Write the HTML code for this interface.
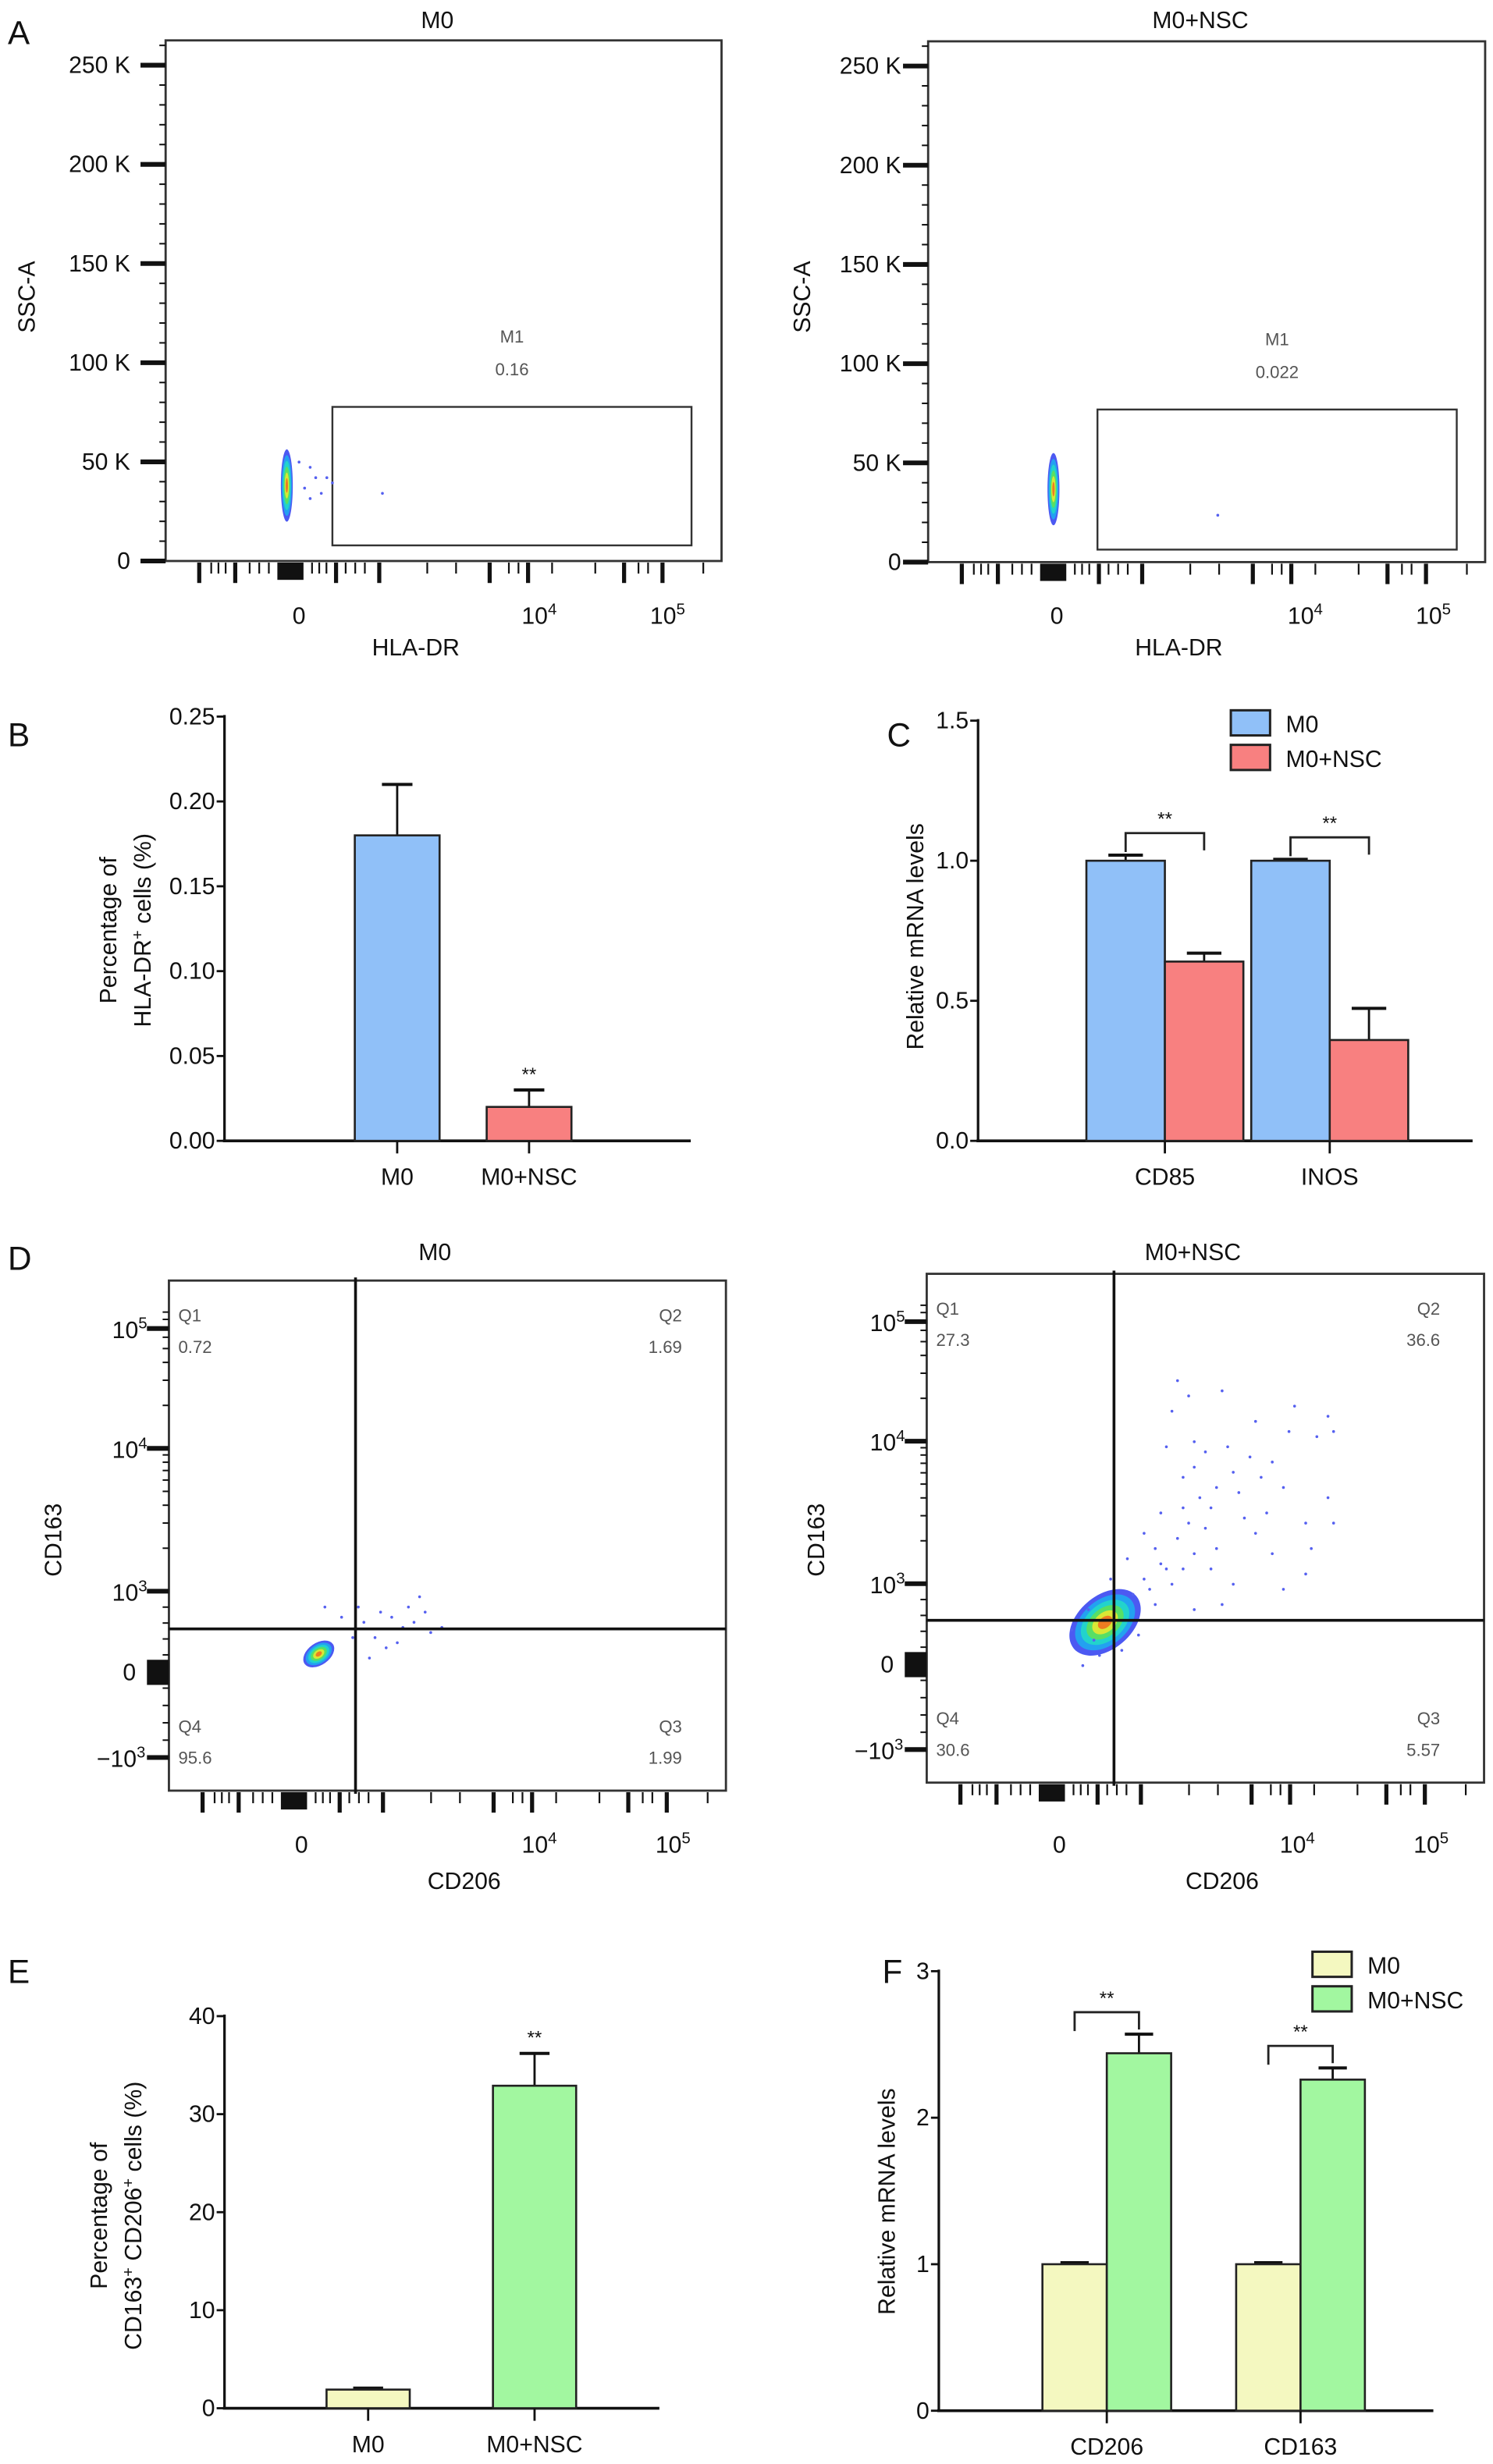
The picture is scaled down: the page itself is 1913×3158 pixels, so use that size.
<!DOCTYPE html>
<html><head><meta charset="utf-8"><style>
html,body{margin:0;padding:0;background:#fff;}
svg{display:block;}
text{font-family:"Liberation Sans",Arial,sans-serif;fill:#111;}
.n{font-family:"Liberation Sans Narrow","Liberation Sans",sans-serif;}
</style></head><body>
<svg id="fig" width="1913" height="3158" viewBox="0 0 951 1568" preserveAspectRatio="none" xmlns="http://www.w3.org/2000/svg"></svg>
<script>
// ---------- DATA ----------
const sscTicks = [0, 50, 100, 150, 200, 250];
const sscTickLabels = ["0", "50 K", "100 K", "150 K", "200 K", "250 K"];
const gateM0 = {x0: 0.30, x1: 0.946, y0: 0.704, y1: 0.97};
const gateNSC = {x0: 0.304, x1: 0.949, y0: 0.707, y1: 0.976};
const m1ValueM0 = "0.16";
const m1ValueNSC = "0.022";
const dotsA_M0 = [[0.24,0.81],[0.26,0.82],[0.27,0.84],[0.25,0.86],[0.29,0.84],[0.30,0.85],[0.26,0.88],[0.28,0.87],[0.39,0.87]];
const dotsA_NSC = [[0.52,0.91]];
const quadM0 = ["0.72", "1.69", "1.99", "95.6"];
const quadNSC = ["27.3", "36.6", "5.57", "30.6"];
const dotsD_M0 = [[0.35,0.67],[0.38,0.65],[0.40,0.66],[0.42,0.68],[0.44,0.67],[0.46,0.65],[0.47,0.69],[0.37,0.70],[0.39,0.72],[0.33,0.70],[0.31,0.66],[0.43,0.64],[0.49,0.68],[0.36,0.74],[0.34,0.64],[0.41,0.71],[0.45,0.62],[0.28,0.64]];
const dotsD_NSC = [[0.45,0.21],[0.47,0.24],[0.44,0.27],[0.53,0.23],[0.59,0.29],[0.66,0.26],[0.72,0.28],[0.65,0.31],[0.73,0.31],[0.70,0.32],[0.48,0.33],[0.43,0.34],[0.50,0.35],[0.54,0.34],[0.55,0.39],[0.48,0.38],[0.46,0.40],[0.49,0.44],[0.51,0.46],[0.56,0.43],[0.61,0.47],[0.64,0.42],[0.68,0.49],[0.72,0.44],[0.59,0.51],[0.52,0.54],[0.48,0.55],[0.42,0.57],[0.46,0.58],[0.39,0.60],[0.44,0.61],[0.51,0.58],[0.55,0.61],[0.62,0.55],[0.69,0.54],[0.73,0.49],[0.37,0.63],[0.41,0.65],[0.38,0.71],[0.35,0.74],[0.31,0.75],[0.28,0.77],[0.30,0.72],[0.48,0.66],[0.53,0.65],[0.64,0.62],[0.68,0.59],[0.46,0.46],[0.41,0.54],[0.39,0.51],[0.40,0.62],[0.43,0.58],[0.45,0.52],[0.50,0.50],[0.57,0.48],[0.60,0.40],[0.62,0.37],[0.58,0.36],[0.52,0.42],[0.47,0.49],[0.26,0.70],[0.29,0.66],[0.33,0.60],[0.36,0.56],[0.42,0.47]];

const bCats = ["M0", "M0+NSC"];
const bValues = [0.18, 0.02];
const bErrors = [0.03, 0.01];
const bTicks = [0, 0.05, 0.10, 0.15, 0.20, 0.25];
const bTickLabels = ["0.00", "0.05", "0.10", "0.15", "0.20", "0.25"];

const cCats = ["CD85", "INOS"];
const cM0 = [1.0, 1.0];
const cM0Err = [0.02, 0.005];
const cNSC = [0.64, 0.36];
const cNSCErr = [0.03, 0.113];
const cTicks = [0, 0.5, 1.0, 1.5];
const cTickLabels = ["0.0", "0.5", "1.0", "1.5"];

const eCats = ["M0", "M0+NSC"];
const eValues = [1.9, 32.9];
const eErrors = [0.15, 3.3];
const eTicks = [0, 10, 20, 30, 40];
const eTickLabels = ["0", "10", "20", "30", "40"];

const fCats = ["CD206", "CD163"];
const fM0 = [1.0, 1.0];
const fM0Err = [0.01, 0.01];
const fNSC = [2.44, 2.26];
const fNSCErr = [0.13, 0.08];
const fTicks = [0, 1, 2, 3];
const fTickLabels = ["0", "1", "2", "3"];

// ---------- HELPERS ----------
const NS = "http://www.w3.org/2000/svg";
const svg = document.getElementById("fig");
function mk(tag, attrs, name, inter, parent) {
  const el = document.createElementNS(NS, tag);
  for (const k in attrs) el.setAttribute(k, attrs[k]);
  
  
  (parent || svg).appendChild(el);
  return el;
}
function ln(x1, y1, x2, y2, w, name, col, p) {
  return mk("line", {x1, y1, x2, y2, stroke: col || "#111", "stroke-width": w}, name, false, p);
}
function tx(x, y, s, size, anchor, name, cls, col, p) {
  const t = mk("text", {x, y, "font-size": size, "text-anchor": anchor || "middle"}, name, false, p);
  if (cls) t.setAttribute("class", cls);
  if (col) t.setAttribute("style", "fill:" + col);
  t.textContent = s;
  return t;
}
function pow10(x, y, e, size, name, p) {
  const t = mk("text", {x, y, "font-size": size, "text-anchor": "middle"}, name, false, p);
  const a = document.createElementNS(NS, "tspan"); a.textContent = "10";
  const b = document.createElementNS(NS, "tspan"); b.textContent = e;
  b.setAttribute("dy", -6); b.setAttribute("font-size", size * 0.68);
  t.appendChild(a); t.appendChild(b);
  return t;
}
function rotText(x, y, s, size, name, cls) {
  const t = mk("text", {x: 0, y: 0, "font-size": size, "text-anchor": "middle", transform: `translate(${x},${y}) rotate(-90)`}, name, false);
  if (cls) t.setAttribute("class", cls);
  t.innerHTML = s;
  return t;
}
const xBig = [415, 490, 700, 790, 1020, 1100, 1300, 1380].map(z => (z - 345) / 1158);
const xSmall = [440, 455, 470, 520, 540, 560, 650, 665, 680, 720, 740, 760, 890, 950, 1060, 1080, 1150, 1240, 1330, 1350, 1465].map(z => (z - 345) / 1158);
function flowXTicks(f, g) {
  const w = f.x1 - f.x0;
  xBig.forEach(fr => ln(f.x0 + fr * w, f.y1 + 1, f.x0 + fr * w, f.y1 + 14, 2.6, "x-major-tick", null, g));
  xSmall.forEach(fr => ln(f.x0 + fr * w, f.y1 + 1, f.x0 + fr * w, f.y1 + 8, 1.1, "x-minor-tick", null, g));
  mk("rect", {x: f.x0 + 0.201 * w, y: f.y1 + 1, width: 0.047 * w, height: 11, fill: "#111"}, "x-zero-block", false, g);
}
function blob(cx, cy, rx, ry, rot, g) {
  const cols = ["#2d3cf0", "#1fa8f0", "#22d8c8", "#5ee05a", "#e8e830", "#f07020"];
  cols.forEach((c, i) => {
    const k = 1 - i * 0.16;
    mk("ellipse", {cx, cy, rx: rx * k, ry: ry * k, fill: c, transform: `rotate(${rot},${cx},${cy})`, opacity: i == 0 ? 0.85 : 0.9}, "density-contour", false, g);
  });
}
function dots(list, f, g) {
  list.forEach(d => mk("circle", {cx: f.x0 + d[0] * (f.x1 - f.x0), cy: f.y0 + d[1] * (f.y1 - f.y0), r: 0.9, fill: "#5560f0"}, "event-dot", false, g));
}

// ---------- PANEL A ----------
function panelA(f, title, tLabelX, labelRight, y250, gate, m1, dl, blobC, xlab) {
  const g = mk("g", {}, "panel-a-" + title.toLowerCase().replace("+", "-"), false);
  const ySSC = v => f.y1 - v / 250 * (f.y1 - y250);
  tx((f.x0 + f.x1) / 2 - 4, 18, title, 15, "middle", "plot-title", null, null, g);
  mk("rect", {x: f.x0, y: f.y0, width: f.x1 - f.x0, height: f.y1 - f.y0, fill: "none", stroke: "#333", "stroke-width": 1.4}, "plot-frame", false, g);
  for (let v = 0; v <= 260; v += 10) {
    const major = v % 50 === 0;
    ln(major ? f.x0 - 16 : f.x0 - 4, ySSC(v), f.x0, ySSC(v), major ? 3 : 1, major ? "y-major-tick" : "y-minor-tick", null, g);
  }
  sscTicks.forEach((v, i) => tx(labelRight, ySSC(v) + 5, sscTickLabels[i], 15, "end", "y-tick-label", null, null, g));
  const w = f.x1 - f.x0, h = f.y1 - f.y0;
  mk("rect", {x: f.x0 + gate.x0 * w, y: f.y0 + gate.y0 * h, width: (gate.x1 - gate.x0) * w, height: (gate.y1 - gate.y0) * h, fill: "none", stroke: "#333", "stroke-width": 1.2}, "gate-m1", true, g);
  const gx = f.x0 + (gate.x0 + gate.x1) / 2 * w;
  tx(gx, f.y0 + gate.y0 * h - 41, "M1", 11, "middle", "gate-name", null, "#555", g);
  tx(gx, f.y0 + gate.y0 * h - 20, m1, 11, "middle", "gate-percentage", null, "#555", g);
  flowXTicks(f, g);
  blob(f.x0 + blobC[0] * w, f.y0 + blobC[1] * h, 3.8, 23, 0, g);
  dots(dl, f, g);
  tx(f.x0 + xlab[0] * w, 397, "0", 15, "middle", "x-tick-label", null, null, g);
  pow10(f.x0 + xlab[1] * w, 397, "4", 15, "x-tick-label", g);
  pow10(f.x0 + xlab[2] * w, 397, "5", 15, "x-tick-label", g);
  tx(f.x0 + 0.45 * w, 417, "HLA-DR", 15, "middle", "x-axis-title", null, null, g);
  rotText(tLabelX, 189, "SSC-A", 15, "y-axis-title");
}
tx(5, 28, "A", 21, "start", "panel-label-a");
panelA({x0: 105.5, y0: 25.7, x1: 459.6, y1: 357}, "M0", 22, 83, 41.5, gateM0, m1ValueM0, dotsA_M0, [0.218, 0.855], [0.24, 0.672, 0.903]);
panelA({x0: 591.2, y0: 26.3, x1: 946, y1: 357.7}, "M0+NSC", 516, 574, 42, gateNSC, m1ValueNSC, dotsA_NSC, [0.225, 0.86], [0.231, 0.677, 0.907]);

// ---------- PANEL D ----------
const dYFrac = {e5: 0.094, e4: 0.329, e3: 0.609, z: 0.765, m3: 0.935};
function panelD(f, title, quad, dl, blobSpec, qx, tLabelX) {
  const g = mk("g", {}, "panel-d-" + title.toLowerCase().replace("+", "-"), false);
  const w = f.x1 - f.x0, h = f.y1 - f.y0;
  const Y = fr => f.y0 + fr * h;
  tx((f.x0 + f.x1) / 2 - 8, 802, title, 15, "middle", "plot-title", null, null, g);
  mk("rect", {x: f.x0, y: f.y0, width: w, height: h, fill: "none", stroke: "#333", "stroke-width": 1.4}, "plot-frame", false, g);
  const dec = dYFrac.e3 - dYFrac.e4;
  [dYFrac.e3, dYFrac.e4, dYFrac.e5].forEach(base => {
    for (let k = 2; k <= 9; k++) {
      const fr = base - Math.log10(k) * dec;
      if (fr > 0.01) ln(f.x0 - 4, Y(fr), f.x0, Y(fr), 1, "y-minor-tick", null, g);
    }
  });
  for (let k = 1; k <= 4; k++) {
    ln(f.x0 - 4, Y(dYFrac.z - k * (dYFrac.z - dYFrac.e3) / 5), f.x0, Y(dYFrac.z - k * (dYFrac.z - dYFrac.e3) / 5), 1, "y-minor-tick", null, g);
    ln(f.x0 - 4, Y(dYFrac.z + k * (dYFrac.m3 - dYFrac.z) / 5), f.x0, Y(dYFrac.z + k * (dYFrac.m3 - dYFrac.z) / 5), 1, "y-minor-tick", null, g);
  }
  [dYFrac.e5, dYFrac.e4, dYFrac.e3, dYFrac.m3].forEach(fr => ln(f.x0 - 14, Y(fr), f.x0, Y(fr), 3, "y-major-tick", null, g));
  mk("rect", {x: f.x0 - 14, y: Y(dYFrac.z) - 7, width: 14, height: 16, fill: "#111"}, "y-zero-block", false, g);
  const lr = f.x0 - 17;
  pow10(lr - 8, Y(dYFrac.e5) + 6, "5", 15, "y-tick-label", g);
  pow10(lr - 8, Y(dYFrac.e4) + 6, "4", 15, "y-tick-label", g);
  pow10(lr - 8, Y(dYFrac.e3) + 6, "3", 15, "y-tick-label", g);
  tx(lr - 4, Y(dYFrac.z) + 6, "0", 15, "end", "y-tick-label", null, null, g);
  const m = mk("text", {x: lr + 2, y: Y(dYFrac.m3) + 6, "font-size": 15, "text-anchor": "end"}, "y-tick-label", false, g);
  m.innerHTML = '\u221210<tspan dy="-6" font-size="10">3</tspan>';
  flowXTicks(f, g);
  blob(f.x0 + blobSpec[0] * w, f.y0 + blobSpec[1] * h, blobSpec[2], blobSpec[3], blobSpec[4], g);
  dots(dl, f, g);
  ln(f.x0 + qx[0] * w, f.y0 - 2, f.x0 + qx[0] * w, f.y1 + 2, 1.8, "quadrant-vertical-line", null, g);
  ln(f.x0, f.y0 + qx[1] * h, f.x1, f.y0 + qx[1] * h, 1.8, "quadrant-horizontal-line", null, g);
  const qc = "#555";
  tx(f.x0 + 6, f.y0 + 26, "Q1", 11, "start", "quadrant-label-q1", null, qc, g);
  tx(f.x0 + 6, f.y0 + 46, quad[0], 11, "start", "quadrant-value-q1", null, qc, g);
  tx(f.x1 - 28, f.y0 + 26, "Q2", 11, "end", "quadrant-label-q2", null, qc, g);
  tx(f.x1 - 28, f.y0 + 46, quad[1], 11, "end", "quadrant-value-q2", null, qc, g);
  tx(f.x1 - 28, f.y1 - 37, "Q3", 11, "end", "quadrant-label-q3", null, qc, g);
  tx(f.x1 - 28, f.y1 - 17, quad[2], 11, "end", "quadrant-value-q3", null, qc, g);
  tx(f.x0 + 6, f.y1 - 37, "Q4", 11, "start", "quadrant-label-q4", null, qc, g);
  tx(f.x0 + 6, f.y1 - 17, quad[3], 11, "start", "quadrant-value-q4", null, qc, g);
  tx(f.x0 + 0.238 * w, 1179, "0", 15, "middle", "x-tick-label", null, null, g);
  pow10(f.x0 + 0.665 * w, 1179, "4", 15, "x-tick-label", g);
  pow10(f.x0 + 0.905 * w, 1179, "5", 15, "x-tick-label", g);
  tx(f.x0 + 0.53 * w, 1202, "CD206", 15, "middle", "x-axis-title", null, null, g);
  rotText(tLabelX, 980, "CD163", 15, "y-axis-title");
}
tx(5, 808, "D", 21, "start", "panel-label-d");
panelD({x0: 107.6, y0: 814.9, x1: 462.4, y1: 1139.5}, "M0", quadM0, dotsD_M0, [0.269, 0.732, 11, 7, -35], [0.335, 0.683], 39);
panelD({x0: 590.3, y0: 810.6, x1: 945.3, y1: 1134.4}, "M0+NSC", quadNSC, dotsD_NSC, [0.32, 0.685, 26, 17, -40], [0.336, 0.681], 525);

// ---------- BAR CHARTS ----------
const blue = "#90c0f8", red = "#f88080", yellow = "#f4f8c0", green = "#a2f7a0";
function axes(g, ax, y0, axEnd, yOf, ticks, labels) {
  ln(ax, yOf(ticks[ticks.length - 1]) - 1, ax, y0, 1.6, "y-axis-line", null, g);
  ln(ax - 1, y0, axEnd, y0, 1.8, "x-axis-line", null, g);
  ticks.forEach((v, i) => {
    ln(ax - 5, yOf(v), ax, yOf(v), 1.4, "y-tick", null, g);
    tx(ax - 6, yOf(v) + 5, labels[i], 15, "end", "y-tick-label", "n", null, g);
  });
}
function barRect(g, x, w, yv, y0, col, name) {
  mk("rect", {x, y: yv, width: w, height: y0 - yv, fill: col, stroke: "#222", "stroke-width": 1.3}, name, true, g);
}
function errBar(g, cx, yv, ye, cap, name) {
  ln(cx, yv, cx, ye, 1.4, name, null, g);
  ln(cx - cap, ye, cx + cap, ye, 2, name + "-cap", null, g);
}
function simpleBar(name, ax, y0, yTop, vmax, axEnd, ticks, labels, cats, vals, errs, cols, start, step, bw) {
  const g = mk("g", {}, name, false);
  const yOf = v => y0 - v / vmax * (y0 - yTop);
  const xOf = i => start + i * step;
  axes(g, ax, y0, axEnd, yOf, ticks, labels);
  cats.forEach((c, i) => {
    const cx = xOf(i);
    errBar(g, cx, yOf(vals[i]), yOf(vals[i] + errs[i]), bw * 0.18, "error-bar-" + c.toLowerCase().replace("+", "-"));
    barRect(g, cx - bw / 2, bw, yOf(vals[i]), y0, cols[i], "bar-" + c.toLowerCase().replace("+", "-"));
    ln(cx, y0, cx, y0 + 8, 1.4, "x-tick", null, g);
    tx(cx, y0 + 28, c, 15, "middle", "x-tick-label", "n", null, g);
    if (i === 1) tx(cx, yOf(vals[i] + errs[i]) - 6, "**", 12, "middle", "significance-marker", null, null, g);
  });
  return g;
}
function groupedBar(name, ax, y0, yTop, vmax, axEnd, ticks, labels, cats, s1, e1, s2, e2, c1, c2, start, step, bw) {
  const g = mk("g", {}, name, false);
  const yOf = v => y0 - v / vmax * (y0 - yTop);
  const xOf = i => start + i * step;
  axes(g, ax, y0, axEnd, yOf, ticks, labels);
  cats.forEach((c, i) => {
    const cx = xOf(i);
    errBar(g, cx - bw / 2, yOf(s1[i]), yOf(s1[i] + e1[i]), bw * 0.22, "error-bar-m0");
    errBar(g, cx + bw / 2, yOf(s2[i]), yOf(s2[i] + e2[i]), bw * 0.22, "error-bar-m0-nsc");
    barRect(g, cx - bw, bw, yOf(s1[i]), y0, c1, "bar-m0-" + c.toLowerCase());
    barRect(g, cx, bw, yOf(s2[i]), y0, c2, "bar-m0-nsc-" + c.toLowerCase());
    ln(cx, y0, cx, y0 + 8, 1.4, "x-tick", null, g);
    tx(cx, y0 + 28, c, 15, "middle", "x-tick-label", "n", null, g);
    const top = Math.min(yOf(s1[i] + e1[i]), yOf(s2[i] + e2[i])) - 14;
    const lx = cx - bw / 2, rx = cx + bw / 2;
    mk("polyline", {points: `${lx},${top + 12} ${lx},${top} ${rx},${top} ${rx},${top + 11}`, fill: "none", stroke: "#222", "stroke-width": 1.4}, "significance-bracket", false, g);
    tx(cx, top - 5, "**", 12, "middle", "significance-marker", null, null, g);
  });
  return g;
}
function legend(x, y, cols, names) {
  const g = mk("g", {}, "legend", false);
  cols.forEach((c, i) => {
    const e = mk("g", {}, "legend-entry", true, g);
    mk("rect", {x, y: y + i * 22, width: 25, height: 16, fill: c, stroke: "#222", "stroke-width": 1.5}, "legend-swatch", false, e);
    tx(x + 35, y + i * 22 + 14, names[i], 15, "start", "legend-label", "n", null, e);
  });
}

tx(5, 475, "B", 21, "start", "panel-label-b");
simpleBar("chart-b", 143, 726, 456, 0.25, 440, bTicks, bTickLabels, bCats, bValues, bErrors, [blue, red], 253, 84, 54);
rotText(74, 592, "Percentage of", 15, "y-axis-title-line1");
rotText(96, 592, 'HLA-DR<tspan dy="-5" font-size="10">+</tspan><tspan dy="5"> cells (%)</tspan>', 15, "y-axis-title-line2");

tx(565, 475, "C", 21, "start", "panel-label-c");
groupedBar("chart-c", 623, 726, 458.6, 1.5, 938, cTicks, cTickLabels, cCats, cM0, cM0Err, cNSC, cNSCErr, blue, red, 742, 105, 50);
rotText(588, 596, "Relative mRNA levels", 15, "y-axis-title");
legend(784, 452, [blue, red], ["M0", "M0+NSC"]);

tx(5, 1262, "E", 21, "start", "panel-label-e");
simpleBar("chart-e", 143, 1532.5, 1283, 40, 420, eTicks, eTickLabels, eCats, eValues, eErrors, [yellow, green], 234.5, 106, 53);
rotText(68, 1410, "Percentage of", 15, "y-axis-title-line1");
rotText(90, 1410, 'CD163<tspan dy="-5" font-size="10">+</tspan><tspan dy="5"> CD206</tspan><tspan dy="-5" font-size="10">+</tspan><tspan dy="5"> cells (%)</tspan>', 15, "y-axis-title-line2");

tx(562, 1262, "F", 21, "start", "panel-label-f");
groupedBar("chart-f", 598, 1534.1, 1254.4, 3, 913, fTicks, fTickLabels, fCats, fM0, fM0Err, fNSC, fNSCErr, yellow, green, 705, 123.4, 41);
rotText(570, 1401, "Relative mRNA levels", 15, "y-axis-title");
legend(836, 1242, [yellow, green], ["M0", "M0+NSC"]);
</script>
</body></html>
